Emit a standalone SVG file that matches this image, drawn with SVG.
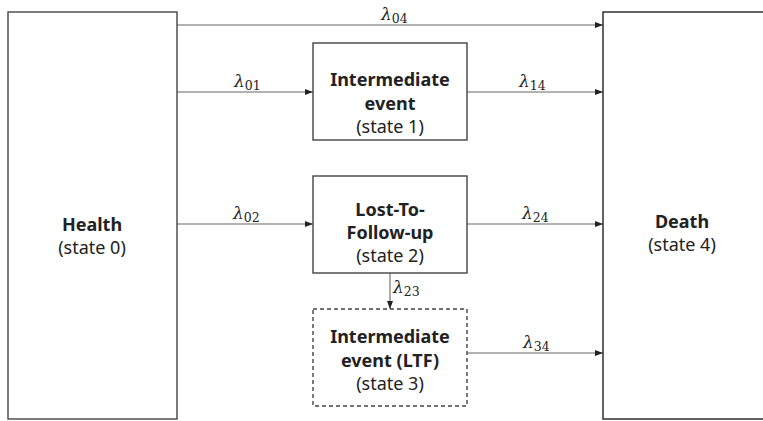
<svg xmlns="http://www.w3.org/2000/svg" width="763" height="421" viewBox="0 0 763 421">
<style>
.box{fill:#fff;stroke:#444;stroke-width:1.4}
.dash{stroke-dasharray:4 3}
.t{font-family:"Noto Sans","Open Sans","Liberation Sans",sans-serif;fill:#222;text-anchor:middle}
.b{font-weight:bold;font-size:18px}
.r{font-size:18px}
.edge{stroke:#666;stroke-width:1.1;fill:none}
.lam{font-family:"DejaVu Serif","Liberation Serif",serif;font-size:17px;fill:#222}
.sub{font-family:"DejaVu Serif","Liberation Serif",serif;font-size:12.5px}
</style>
<defs>
<marker id="ah" viewBox="0 0 8 6" refX="8" refY="3" markerWidth="8" markerHeight="6" markerUnits="userSpaceOnUse" orient="auto">
<path d="M0,0 L8,3 L0,6 z" fill="#222"/>
</marker>
</defs>
<g id="connectors">
<line class="edge" x1="177" y1="25" x2="603" y2="25" marker-end="url(#ah)"/>
<line class="edge" x1="177" y1="92" x2="313" y2="92" marker-end="url(#ah)"/>
<line class="edge" x1="467" y1="92" x2="603" y2="92" marker-end="url(#ah)"/>
<line class="edge" x1="177" y1="224" x2="313" y2="224" marker-end="url(#ah)"/>
<line class="edge" x1="467" y1="224" x2="603" y2="224" marker-end="url(#ah)"/>
<line class="edge" x1="390" y1="273" x2="390" y2="309" marker-end="url(#ah)"/>
<line class="edge" x1="467" y1="353" x2="603" y2="353" marker-end="url(#ah)"/>
<text class="lam" x="381" y="20"><tspan font-style="italic">λ</tspan><tspan class="sub" dy="3">04</tspan></text>
<text class="lam" x="234" y="87"><tspan font-style="italic">λ</tspan><tspan class="sub" dy="3">01</tspan></text>
<text class="lam" x="519" y="87"><tspan font-style="italic">λ</tspan><tspan class="sub" dy="3">14</tspan></text>
<text class="lam" x="233" y="219"><tspan font-style="italic">λ</tspan><tspan class="sub" dy="3">02</tspan></text>
<text class="lam" x="522" y="219"><tspan font-style="italic">λ</tspan><tspan class="sub" dy="3">24</tspan></text>
<text class="lam" x="393" y="293"><tspan font-style="italic">λ</tspan><tspan class="sub" dy="3">23</tspan></text>
<text class="lam" x="523" y="348"><tspan font-style="italic">λ</tspan><tspan class="sub" dy="3">34</tspan></text>
</g>
<g id="health">
<rect class="box" x="8" y="12" width="169" height="407"/>
<text class="t b" x="92" y="231">Health</text>
<text class="t r" x="92" y="254">(state 0)</text>
</g>
<g id="death">
<rect class="box" x="603" y="12" width="170" height="407" style="stroke:#222"/>
<text class="t b" x="682" y="228">Death</text>
<text class="t r" x="682" y="251">(state 4)</text>
</g>
<g id="state1">
<rect class="box" x="313" y="43" width="154" height="97"/>
<text class="t b" x="390" y="86">Intermediate</text>
<text class="t b" x="390" y="110">event</text>
<text class="t r" x="390" y="133">(state 1)</text>
</g>
<g id="state2">
<rect class="box" x="313" y="176" width="154" height="97"/>
<text class="t b" x="390" y="216">Lost-To-</text>
<text class="t b" x="390" y="239">Follow-up</text>
<text class="t r" x="390" y="262">(state 2)</text>
</g>
<g id="state3">
<rect class="box dash" x="313" y="309" width="154" height="97"/>
<text class="t b" x="390" y="343">Intermediate</text>
<text class="t b" x="390" y="367">event (LTF)</text>
<text class="t r" x="390" y="390">(state 3)</text>
</g>
</svg>
